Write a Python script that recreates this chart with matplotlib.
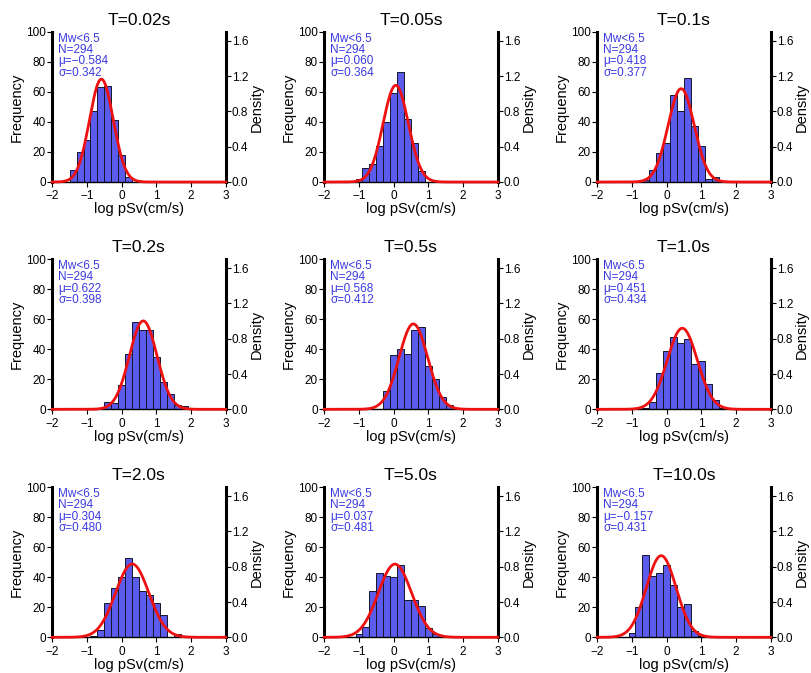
import numpy as np
import matplotlib
matplotlib.use("Agg")
import matplotlib.pyplot as plt

plt.rcParams['font.family'] = ['Liberation Sans', 'DejaVu Sans']

# ---------------- data ----------------
periods = ["T=0.02s", "T=0.05s", "T=0.1s",
           "T=0.2s", "T=0.5s", "T=1.0s",
           "T=2.0s", "T=5.0s", "T=10.0s"]
n_records = 294
mu_values = [-0.584, 0.060, 0.418, 0.622, 0.568, 0.451, 0.304, 0.037, -0.157]
sigma_values = [0.342, 0.364, 0.377, 0.398, 0.412, 0.434, 0.480, 0.481, 0.431]
bin_width = 0.2
first_bin_left = [-1.5, -1.1, -0.7, -0.5, -0.3, -0.7, -0.9, -1.1, -1.1]
counts_T002 = [8, 20, 28, 47, 63, 64, 41, 18, 3]
counts_T005 = [2, 9, 12, 24, 40, 59, 73, 42, 26, 7]
counts_T01 = [1, 8, 19, 26, 58, 47, 69, 37, 24, 2, 3]
counts_T02 = [5, 4, 16, 37, 58, 53, 53, 35, 18, 10, 3, 2]
counts_T05 = [12, 36, 40, 37, 53, 55, 29, 20, 8, 3]
counts_T10 = [1, 5, 24, 39, 48, 44, 47, 30, 32, 17, 6, 1]
counts_T20 = [1, 5, 23, 33, 40, 53, 40, 31, 28, 23, 15, 0, 2]
counts_T50 = [2, 7, 31, 43, 41, 40, 48, 25, 25, 21, 6, 2]
counts_T100 = [3, 20, 55, 41, 43, 48, 35, 20, 22, 4, 1]
all_counts = [counts_T002, counts_T005, counts_T01, counts_T02, counts_T05,
              counts_T10, counts_T20, counts_T50, counts_T100]
freq_ticks = [0, 20, 40, 60, 80, 100]
dens_ticks = [0.0, 0.4, 0.8, 1.2, 1.6]
x_ticks = [-2, -1, 0, 1, 2, 3]

# ---------------- layout ----------------
W, H = 811, 673
fig = plt.figure(figsize=(W / 100, H / 100), dpi=100)

col_left = [52.3, 324.3, 597.3]
ax_w = 173.4
row_bottom = [182.0, 409.3, 637.3]
ax_h = 150.0

bar_color = '#5c5cec'
text_color = '#3a3ae0'

for i in range(9):
    r, c = divmod(i, 3)
    rect = [col_left[c] / W, 1 - row_bottom[r] / H, ax_w / W, ax_h / H]
    ax = fig.add_axes(rect)
    counts = np.array(all_counts[i])
    lefts = first_bin_left[i] + bin_width * np.arange(len(counts))
    ax.bar(lefts, counts, width=bin_width, align='edge', color=bar_color,
           edgecolor='#15152a', linewidth=0.7, zorder=2)
    ax.set_xlim(-2, 3)
    ax.set_ylim(0, 100)
    ax.set_xticks(x_ticks)
    ax.set_xticklabels([f"{t:d}".replace('-', '\u2212') for t in x_ticks])
    ax.set_yticks(freq_ticks)
    ax.tick_params(axis='both', direction='out', length=3.5, width=0.8,
                   labelsize=8.5, pad=1)
    ax.tick_params(axis='x', pad=2.5)
    ax.spines['top'].set_visible(False)
    ax.spines['right'].set_visible(False)
    ax.spines['left'].set_linewidth(2.2)
    ax.spines['bottom'].set_linewidth(1.0)
    ax.set_ylabel("Frequency", fontsize=10.5, labelpad=2)
    ax.set_xlabel("log pSv(cm/s)", fontsize=10.5, labelpad=0)
    ax.set_title(periods[i], fontsize=12.5, pad=5)

    mu = mu_values[i]
    sg = sigma_values[i]
    mu_str = f"{mu:.3f}".replace('-', '\u2212')
    txt = f"Mw<6.5\nN={n_records}\n\u03bc={mu_str}\n\u03c3={sg:.3f}"
    ax.text(0.035, 0.995, txt, transform=ax.transAxes, ha='left', va='top',
            fontsize=8.5, color=text_color, linespacing=0.92, zorder=5)

    ax2 = ax.twinx()
    ax2.set_ylim(0, 100 / (n_records * bin_width))
    ax2.set_yticks(dens_ticks)
    ax2.set_yticklabels([f"{d:.1f}" for d in dens_ticks])
    ax2.tick_params(axis='y', direction='out', length=3.5, width=0.8,
                    labelsize=8.5, pad=1)
    ax2.spines['top'].set_visible(False)
    ax2.spines['left'].set_visible(False)
    ax2.spines['bottom'].set_visible(False)
    ax2.spines['right'].set_linewidth(2.2)
    ax2.set_ylabel("Density", fontsize=10.5, labelpad=1)
    xs = np.linspace(-2, 3, 400)
    pdf = np.exp(-0.5 * ((xs - mu) / sg) ** 2) / (sg * np.sqrt(2 * np.pi))
    ax2.plot(xs, pdf, color='#ee1111', linewidth=2.0, clip_on=False, zorder=3)

fig.savefig("out.png", dpi=100)
